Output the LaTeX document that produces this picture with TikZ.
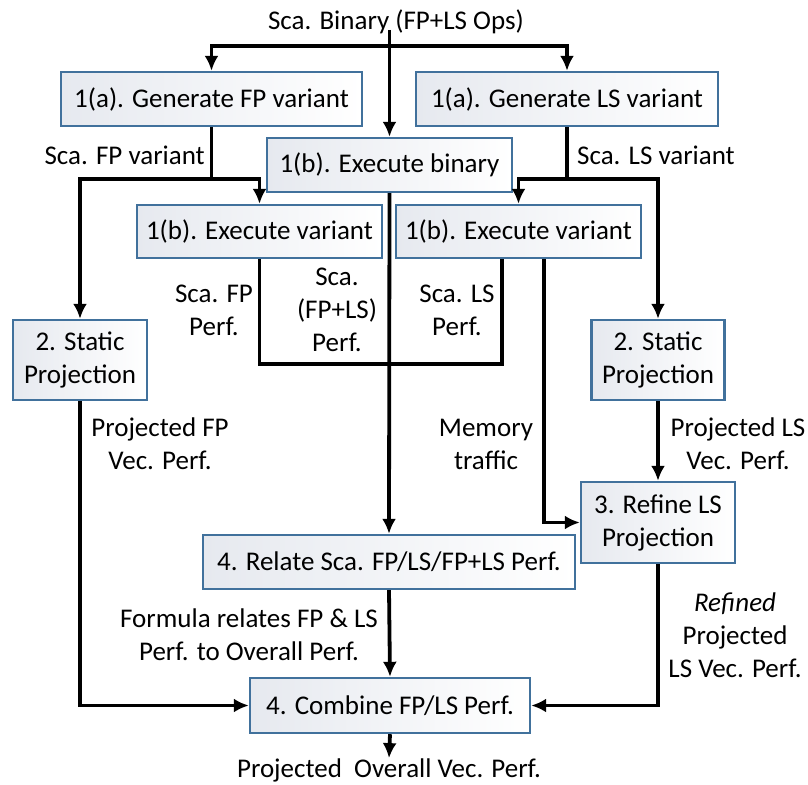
\documentclass[tikz,border=0pt]{standalone}
\usepackage{fontspec}
\setmainfont{Carlito}
\usepackage{tikz}
\usetikzlibrary{positioning,arrows.meta,calc}
\usepackage{xcolor}
\definecolor{boxedge}{HTML}{41719C}
\definecolor{boxshade}{HTML}{E6E9EF}

\begin{document}
\begin{tikzpicture}[x=1pt, y=-1pt,
    box/.style={draw=boxedge, line width=2.4pt, left color=boxshade, right color=white,
                align=center, inner sep=2pt, font=\fontsize{27}{33}\selectfont},
    lbl/.style={align=center, inner sep=0pt, font=\fontsize{27}{33}\selectfont},
    link/.style={line width=3.8pt, draw=black},
    flow/.style={link, -{Latex[length=15pt, width=14pt]}}]
    \useasboundingbox (0,0) rectangle (808,784);

    % 0. Input binary
    \node[lbl] (src) at (396, 22) {Sca. Binary (FP+LS Ops)};

    % 1. Generate and execute
    \node[box, minimum width=301pt, minimum height=54pt] (genfp) at (211.5, 99) {1(a). Generate FP variant};
    \node[box, minimum width=302pt, minimum height=54pt] (genls) at (567, 99) {1(a). Generate LS variant};
    \node[box, minimum width=245pt, minimum height=54pt] (exebin) at (389.5, 165) {1(b). Execute binary};
    \node[box, minimum width=245pt, minimum height=53pt] (exefp) at (259.5, 231.5) {1(b). Execute variant};
    \node[box, minimum width=245pt, minimum height=53pt] (exels) at (518.5, 231.5) {1(b). Execute variant};

    % 2. Static projection, 3. refine
    \node[box, minimum width=134pt, minimum height=80pt] (statfp) at (80, 360) {2. Static\\Projection};
    \node[box, minimum width=133pt, minimum height=80pt] (statls) at (658, 360) {2. Static\\Projection};
    \node[box, minimum width=154pt, minimum height=81pt] (refine) at (658, 522.5) {3. Refine LS\\Projection};

    % 4. Relate and combine
    \node[box, minimum width=372pt, minimum height=54pt] (relate) at (389, 562) {4. Relate Sca. FP/LS/FP+LS Perf.};
    \node[box, minimum width=280pt, minimum height=55pt] (combine) at (390, 705.5) {4. Combine FP/LS Perf.};
    \node[lbl] (out) at (389, 770) {Projected~ Overall Vec. Perf.};

    % split points
    \coordinate (topsplit) at (389.5, 46);
    \coordinate (fpsplit) at (211.5, 179);
    \coordinate (lssplit) at (567, 179);
    \coordinate (perfjoin) at (389.5, 364);

    % connectors from the binary
    \draw[flow] (389.5, 30) -- (exebin.north);
    \draw[flow] (topsplit) -| (genfp.north);
    \draw[flow] (topsplit) -| (genls.north);

    % FP side
    \draw[link] (genfp.south) -- (fpsplit);
    \draw[flow] (fpsplit) -| (exefp.north);
    \draw[flow] (fpsplit) -| (statfp.north);

    % LS side
    \draw[link] (genls.south) -- (lssplit);
    \draw[flow] (lssplit) -| (exels.north);
    \draw[flow] (lssplit) -| (statls.north);

    % scalar performance
    \draw[link] (exefp.south) |- (perfjoin) -| ([xshift=-16.5pt]exels.south);
    \draw[flow] (exebin.south) -- (relate.north);
    \draw[flow] ([xshift=25.5pt]exels.south) |- (refine.west);
    \draw[flow] (statls.south) -- (refine.north);

    % combine
    \draw[flow] (statfp.south) |- (combine.west);
    \draw[flow] (refine.south) |- (combine.east);
    \draw[flow] (relate.south) -- (combine.north);
    \draw[flow] (combine.south) -- (out.north);

    % labels
    \node[lbl, anchor=east] (lfpvar) at (205, 155) {Sca. FP variant};
    \node[lbl, anchor=west] (llsvar) at (577, 155) {Sca. LS variant};
    \node[lbl] (lfpperf) at (214, 310) {Sca. FP\\Perf.};
    \node[lbl] (lbinperf) at (337, 310) {Sca.\\(FP+LS)\\Perf.};
    \node[lbl] (llsperf) at (457, 310) {Sca. LS\\Perf.};
    \node[lbl] (lprojfp) at (160, 444) {Projected FP\\Vec. Perf.};
    \node[lbl] (lmem) at (486, 444) {Memory\\traffic};
    \node[lbl] (lprojls) at (738, 444) {Projected LS\\Vec. Perf.};
    \node[lbl] (lformula) at (249, 635) {Formula relates FP \& LS\\Perf. to Overall Perf.};
    \node[lbl] (lrefined) at (735, 635) {\textit{Refined}\\Projected\\LS Vec. Perf.};
\end{tikzpicture}
\end{document}
